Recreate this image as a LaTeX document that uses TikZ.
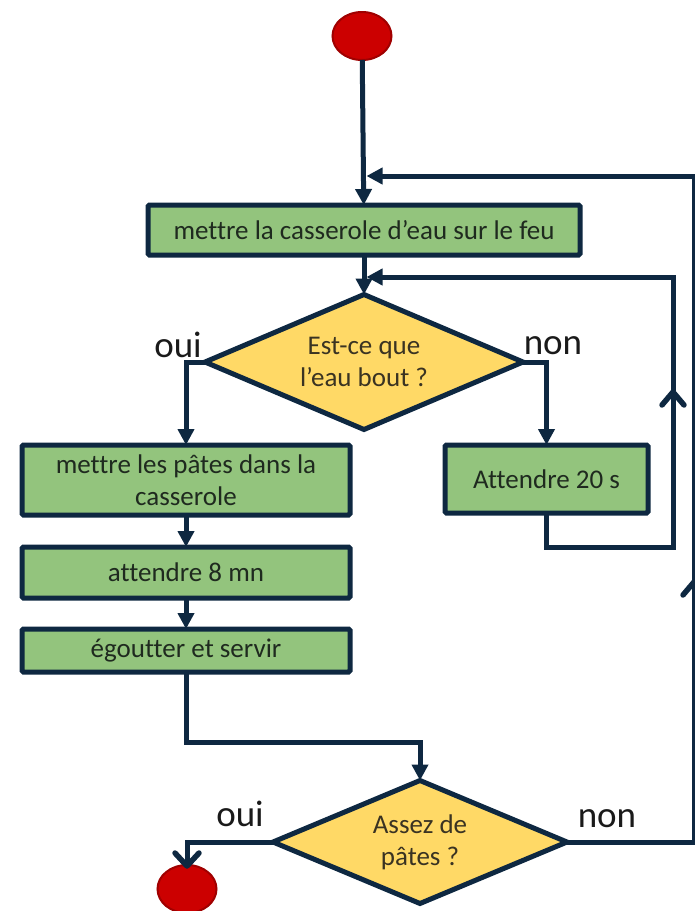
\documentclass[tikz,border=0pt]{standalone}
\usepackage{fontspec}
\setmainfont{Carlito}[Ligatures=NoCommon]
\usetikzlibrary{shapes.geometric,arrows.meta}

\definecolor{navy}{HTML}{0E2841}
\definecolor{boxgreen}{HTML}{93C47D}
\definecolor{diayellow}{HTML}{FFD966}
\definecolor{stopred}{HTML}{CC0000}
\definecolor{stopedge}{HTML}{A00000}
\definecolor{boxtext}{HTML}{1F2A1F}
\definecolor{diatext}{HTML}{3A3322}
\definecolor{labeltext}{HTML}{1A1A1A}

\begin{document}
\begin{tikzpicture}[x=1pt,y=-1pt,
  stepbox/.style={rectangle, draw=navy, fill=boxgreen, line width=5pt,
    rounded corners=1.5pt, inner sep=0pt, outer sep=0pt, text=boxtext,
    align=center, font=\fontsize{27}{32}\selectfont},
  decision/.style={diamond, draw=navy, fill=diayellow, line width=5pt,
    inner sep=0pt, outer sep=0pt, aspect=2.35, text=diatext,
    align=center, font=\fontsize{27}{32}\selectfont},
  terminal/.style={ellipse, draw=stopedge, fill=stopred, line width=2pt,
    minimum width=59pt, minimum height=48pt, inner sep=0pt, outer sep=0pt},
  answer/.style={anchor=base, inner sep=0pt, text=labeltext,
    font=\fontsize{37}{40}\selectfont},
  link/.style={draw=navy, line width=5pt, line join=miter},
  flow/.style={link, -{Triangle[length=16pt,width=16pt]}},
  chevron/.style={draw=navy, line width=5.5pt, line cap=round, line join=round}
]
\useasboundingbox (0,0) rectangle (695,911);

% start and end
\node[terminal] (start) at (362,36) {};
\node[terminal] (stop) at (187,889) {};

% process boxes
\node[stepbox, minimum width=432pt, minimum height=50pt] (b1) at (364,230)
  {mettre la casserole d’eau sur le feu};
\node[stepbox, minimum width=328pt, minimum height=70pt] (b2) at (186,480)
  {mettre les pâtes dans la\\casserole};
\node[stepbox, minimum width=203pt, minimum height=68pt] (att) at (546.5,479)
  {Attendre 20 s};
\node[stepbox, minimum width=328pt, minimum height=51pt] (b3) at (186,572.5)
  {attendre 8 mn};
\node[stepbox, minimum width=328pt, minimum height=43pt] (b4) at (186,650.5)
  {égoutter et servir};

% decisions
\node[decision, minimum width=318pt, minimum height=135pt] (d1) at (364,362)
  {Est-ce que\\l’eau bout ?};
\node[decision, minimum width=294pt, minimum height=123pt] (d2) at (420,842)
  {Assez de\\pâtes ?};

% answer labels
\node[answer] (oui1) at (178,357) {oui};
\node[answer] (non1) at (553,354) {non};
\node[answer] (oui2) at (240,826) {oui};
\node[answer] (non2) at (607,827) {non};

% junction and corner points of the loops
\coordinate (j1) at (366.5,176);
\coordinate (rtop) at (694,176);
\coordinate (j2) at (366.5,277);
\coordinate (rb) at (673,547);
\coordinate (rt) at (673,277);
\coordinate (m4) at (186,742);
\coordinate (stoptop) at (187,866);
% tips of the open chevrons
\coordinate (up1) at (673,392);
\coordinate (up2) at (694,582);

% main flow
\draw[flow] (start) -- (b1);
\draw[flow] (b1) -- (d1);
\draw[flow] (d1.west) -| (b2.north);
\draw[flow] (d1.east) -| (att.north);
\draw[flow] (b2) -- (b3);
\draw[flow] (b3) -- (b4);
\draw[flow] (b4.south) -- (m4) -| (d2.north);
\draw[link] (d2.west) -| (stoptop);
\draw[chevron] ([xshift=-12pt,yshift=13pt]stoptop) -- (stoptop)
  -- ([xshift=12pt,yshift=13pt]stoptop);

% waiting loop back above the first test
\draw[flow] (att.south) |- (rb) -- (rt) -- (j2);
\draw[chevron] ([xshift=-11pt,yshift=-13pt]up1) -- (up1)
  -- ([xshift=11pt,yshift=-13pt]up1);

% outer loop back above the first box
\draw[flow] (d2.east) -| (rtop) -- (j1);
\draw[chevron] ([xshift=-11pt,yshift=-13pt]up2) -- (up2)
  -- ([xshift=11pt,yshift=-13pt]up2);
\end{tikzpicture}
\end{document}
